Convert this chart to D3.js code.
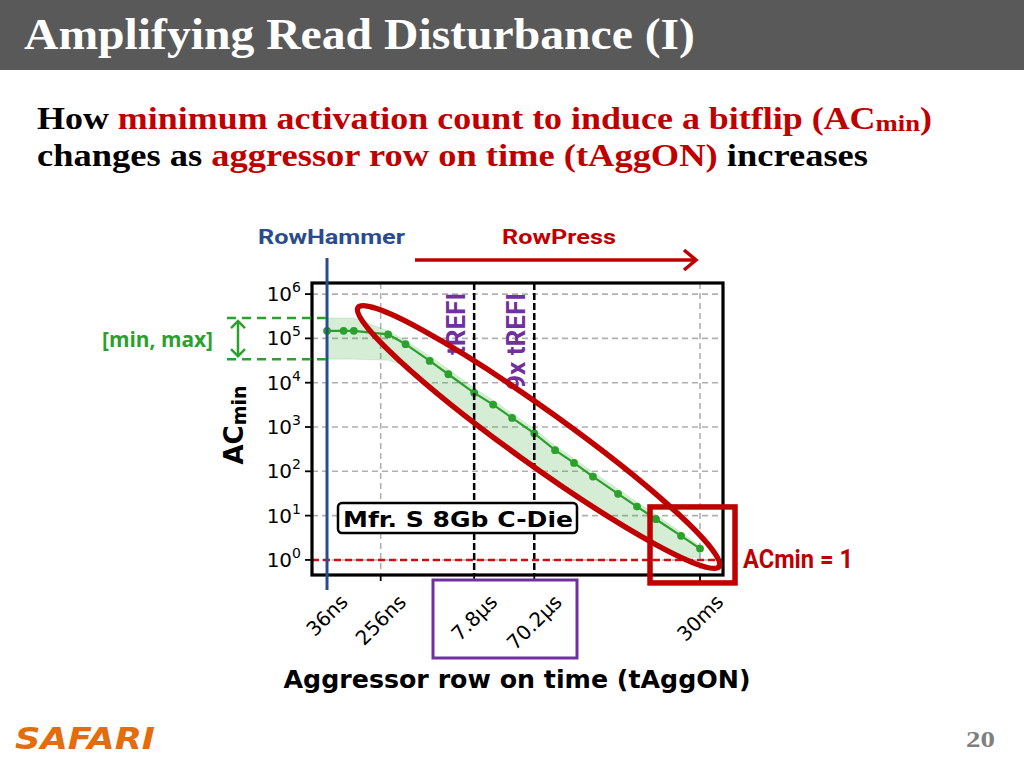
<!DOCTYPE html>
<html><head><meta charset="utf-8">
<script src="https://cdn.jsdelivr.net/npm/d3@7"></script>
<style>body{margin:0;background:#fff}svg{display:block}</style>
</head><body>
<svg id="c" width="1024" height="768"></svg>
<script>
// ---------------- data ----------------
const tAggON = [36e-9, 66e-9, 96e-9, 336e-9, 636e-9, 1.536e-6, 3.036e-6, 7.8e-6, 15.6e-6, 31.2e-6, 70.2e-6,
  150e-6, 300e-6, 600e-6, 1.5e-3, 3e-3, 6e-3, 15e-3, 30e-3];
const acMinTypical = [148000, 148000, 148000, 123000, 74000, 31000, 15500, 5900, 3200, 1600, 720,
  300, 155, 76, 31, 16, 8.3, 3.5, 1.8];
const acMinUpper = [288000, 288000, 288000, 148000, 89000, 40000, 20000, 7600, 4000, 2000, 910,
  380, 195, 95, 40, 20, 10.5, 4.2, 2.1];
const acMinLower = [34000, 34000, 34000, 32000, 24000, 7100, 3200, 1100, 630, 320, 140,
  63, 35, 18, 7.9, 4.2, 2.2, 1.17, 1.12];
const xTickValues = [36e-9, 256e-9, 7.8e-6, 70.2e-6, 30e-3];
const xTickLabels = ["36ns", "256ns", "7.8µs", "70.2µs", "30ms"];
const yTickExps = [0, 1, 2, 3, 4, 5, 6];
const xGridValues = [36e-9, 256e-9, 30e-3];
const trefiValues = [7.8e-6, 70.2e-6];
const trefiLabels = ["tREFI", "9x tREFI"];

const RED = "#c00000", GREEN = "#2ca02c", PURPLE = "#7030a0", BLUE = "#2b4c8c";

const svg = d3.select("#c");
function fit(sel, len) { return sel.attr("textLength", len).attr("lengthAdjust", "spacingAndGlyphs"); }

// ---------------- header ----------------
svg.append("rect").attr("x", 0).attr("y", 0).attr("width", 1024).attr("height", 70).attr("fill", "#595959");
fit(svg.append("text").attr("x", 24).attr("y", 49)
  .attr("font-family", "Liberation Serif").attr("font-weight", "bold").attr("font-size", 44)
  .attr("fill", "#fff").text("Amplifying Read Disturbance (I)"), 671);

const sub1 = svg.append("text").attr("x", 37).attr("y", 129)
  .attr("font-family", "Liberation Serif").attr("font-weight", "bold").attr("font-size", 31);
sub1.append("tspan").attr("fill", "#000").text("How ");
sub1.append("tspan").attr("fill", RED).text("minimum activation count to induce a bitflip (AC");
sub1.append("tspan").attr("fill", RED).attr("font-size", 23).attr("dy", 2).text("min");
sub1.append("tspan").attr("fill", RED).attr("dy", -2).text(")");
fit(sub1, 895);

const sub2 = svg.append("text").attr("x", 37).attr("y", 166)
  .attr("font-family", "Liberation Serif").attr("font-weight", "bold").attr("font-size", 31);
sub2.append("tspan").attr("fill", "#000").text("changes as ");
sub2.append("tspan").attr("fill", RED).text("aggressor row on time (tAggON)");
sub2.append("tspan").attr("fill", "#000").text(" increases");
fit(sub2, 831);

// ---------------- scales ----------------
const L = 312, R = 723, T = 283, B = 575;
const x = d3.scaleLog().domain([Math.pow(10, -7.682), Math.pow(10, -1.158)]).range([L, R]);
const y = d3.scaleLog().domain([Math.pow(10, -0.34), Math.pow(10, 6.25)]).range([B, T]);

const g = svg.append("g");
// gridlines
g.selectAll(".gy").data(yTickExps).join("line")
  .attr("x1", L).attr("x2", R).attr("y1", d => y(Math.pow(10, d))).attr("y2", d => y(Math.pow(10, d)))
  .attr("stroke", "#b0b0b0").attr("stroke-width", 1.6).attr("stroke-dasharray", "6,4");
g.selectAll(".gx").data(xGridValues).join("line")
  .attr("x1", d => x(d)).attr("x2", d => x(d)).attr("y1", T).attr("y2", B)
  .attr("stroke", "#b0b0b0").attr("stroke-width", 1.6).attr("stroke-dasharray", "6,4");

// band, line, dots
const idx = d3.range(tAggON.length);
g.append("path").datum(idx)
  .attr("d", d3.area().x(i => x(tAggON[i])).y0(i => y(acMinLower[i])).y1(i => y(acMinUpper[i])))
  .attr("fill", GREEN).attr("fill-opacity", 0.2).attr("stroke", GREEN).attr("stroke-opacity", 0.12);
g.append("path").datum(idx)
  .attr("d", d3.line().x(i => x(tAggON[i])).y(i => y(acMinTypical[i])))
  .attr("fill", "none").attr("stroke", GREEN).attr("stroke-width", 2.2);
g.selectAll(".dot").data(idx).join("circle")
  .attr("cx", i => x(tAggON[i])).attr("cy", i => y(acMinTypical[i])).attr("r", 3.9).attr("fill", GREEN);

// tREFI lines
g.selectAll(".tr").data(trefiValues).join("line")
  .attr("x1", d => x(d)).attr("x2", d => x(d)).attr("y1", T).attr("y2", B)
  .attr("stroke", "#000").attr("stroke-width", 2.5).attr("stroke-dasharray", "7,3");

// red dashed AC=1
g.append("line").attr("x1", L).attr("x2", R).attr("y1", y(1)).attr("y2", y(1))
  .attr("stroke", "#d01010").attr("stroke-width", 2.5).attr("stroke-dasharray", "7,4");

// frame
g.append("rect").attr("x", L).attr("y", T).attr("width", R - L).attr("height", B - T)
  .attr("fill", "none").attr("stroke", "#000").attr("stroke-width", 3.2);

// y ticks + labels
yTickExps.forEach(e => {
  const yy = y(Math.pow(10, e));
  g.append("line").attr("x1", L - 7).attr("x2", L).attr("y1", yy).attr("y2", yy).attr("stroke", "#000").attr("stroke-width", 1.8);
  const t = g.append("text").attr("x", 301).attr("y", yy + 7).attr("text-anchor", "end")
    .attr("font-family", "DejaVu Sans").attr("font-size", 20).attr("fill", "#000");
  t.append("tspan").text("10");
  t.append("tspan").attr("font-size", 14).attr("dy", -9).text(String(e));
});
// x tick labels rotated
xTickValues.forEach((v, i) => {
  const xx = x(v);
  g.append("line").attr("x1", xx).attr("x2", xx).attr("y1", B).attr("y2", B + 6).attr("stroke", "#000").attr("stroke-width", 1.8);
  const t = g.append("text").attr("text-anchor", "middle").attr("dominant-baseline", "central")
    .attr("font-family", "DejaVu Sans").attr("font-size", 20).attr("fill", "#000").text(xTickLabels[i]);
  const w = t.node().getComputedTextLength();
  const h = (w + 15) * Math.SQRT1_2;
  t.attr("transform", `translate(${xx},${593 + h / 2}) rotate(-45)`);
});

// axis titles
fit(svg.append("text").attr("x", 517).attr("y", 688).attr("text-anchor", "middle")
  .attr("font-family", "DejaVu Sans").attr("font-weight", "bold").attr("font-size", 24)
  .text("Aggressor row on time (tAggON)"), 467);
const yl = svg.append("text").attr("transform", "translate(243,425) rotate(-90)").attr("text-anchor", "middle")
  .attr("font-family", "DejaVu Sans").attr("font-weight", "bold").attr("font-size", 26);
yl.append("tspan").text("AC");
yl.append("tspan").attr("font-size", 19).attr("dy", 3).text("min");

// tREFI labels
trefiValues.forEach((v, i) => {
  const lens = [62, 97];
  const baseX = x(v) - 9;
  fit(svg.append("text").attr("transform", `translate(${baseX},${293 + lens[i]}) rotate(-90)`)
    .attr("font-family", "Roboto").attr("font-weight", "bold").attr("font-size", 25).attr("fill", PURPLE)
    .text(trefiLabels[i]), lens[i]);
});

// Mfr box
svg.append("rect").attr("x", 338).attr("y", 503).attr("width", 239).attr("height", 30).attr("rx", 4)
  .attr("fill", "#fff").attr("stroke", "#000").attr("stroke-width", 2.5);
fit(svg.append("text").attr("x", 343).attr("y", 527)
  .attr("font-family", "DejaVu Sans").attr("font-weight", "bold").attr("font-size", 22)
  .text("Mfr. S 8Gb C-Die"), 230);

// blue RowHammer line at 36ns
svg.append("line").attr("x1", x(36e-9)).attr("x2", x(36e-9)).attr("y1", 258).attr("y2", 590)
  .attr("stroke", BLUE).attr("stroke-width", 3);

// ellipse annotation (defined by tips in data space)
const tip1 = [x(1.04e-7), y(Math.pow(10, 5.73))];
const tip2 = [x(0.0646), y(Math.pow(10, -0.182))];
const cx = (tip1[0] + tip2[0]) / 2, cy = (tip1[1] + tip2[1]) / 2;
const ang = Math.atan2(tip2[1] - tip1[1], tip2[0] - tip1[0]) * 180 / Math.PI;
const rx = Math.hypot(tip2[0] - tip1[0], tip2[1] - tip1[1]) / 2 - 2.5;
svg.append("ellipse").attr("cx", 0).attr("cy", 0).attr("rx", rx).attr("ry", 27)
  .attr("transform", `translate(${cx},${cy}) rotate(${ang})`)
  .attr("fill", "none").attr("stroke", RED).attr("stroke-width", 5.5);

// red square around AC=1 region
const sx = x(30e-3), sy = y(1);
svg.append("rect").attr("x", sx - 50).attr("y", sy - 53).attr("width", 85).attr("height", 76)
  .attr("fill", "none").attr("stroke", RED).attr("stroke-width", 5.5);
fit(svg.append("text").attr("x", 743).attr("y", 568)
  .attr("font-family", "Roboto").attr("font-weight", "bold").attr("font-size", 25).attr("fill", RED)
  .text("ACmin = 1"), 110);

// RowHammer / RowPress
fit(svg.append("text").attr("x", 258).attr("y", 244).attr("font-family", "Roboto").attr("font-weight", "bold")
  .attr("font-size", 21).attr("fill", BLUE).text("RowHammer"), 147);
fit(svg.append("text").attr("x", 502).attr("y", 244).attr("font-family", "Roboto").attr("font-weight", "bold")
  .attr("font-size", 21).attr("fill", RED).text("RowPress"), 114);
svg.append("line").attr("x1", 415).attr("x2", 694).attr("y1", 260).attr("y2", 260)
  .attr("stroke", RED).attr("stroke-width", 3.5);
svg.append("polyline").attr("points", "684,250 696,260 684,270").attr("fill", "none")
  .attr("stroke", RED).attr("stroke-width", 3.5);

// [min, max]
const yMaxPx = y(acMinUpper[0]), yMinPx = y(acMinLower[0]);
[yMaxPx, yMinPx].forEach(yy => svg.append("line").attr("x1", 227).attr("x2", x(36e-9)).attr("y1", yy).attr("y2", yy)
  .attr("stroke", GREEN).attr("stroke-width", 2.5).attr("stroke-dasharray", "9,6"));
svg.append("line").attr("x1", 238).attr("x2", 238).attr("y1", yMaxPx + 3).attr("y2", yMinPx - 3)
  .attr("stroke", GREEN).attr("stroke-width", 2.5);
svg.append("polyline").attr("points", `231,${yMaxPx + 10} 238,${yMaxPx + 3} 245,${yMaxPx + 10}`)
  .attr("fill", "none").attr("stroke", GREEN).attr("stroke-width", 2.5);
svg.append("polyline").attr("points", `231,${yMinPx - 10} 238,${yMinPx - 3} 245,${yMinPx - 10}`)
  .attr("fill", "none").attr("stroke", GREEN).attr("stroke-width", 2.5);
fit(svg.append("text").attr("x", 102).attr("y", 347).attr("font-family", "Open Sans").attr("font-weight", "bold")
  .attr("font-size", 21).attr("fill", GREEN).text("[min, max]"), 111);

// purple box around tREFI tick labels
svg.append("rect").attr("x", 433).attr("y", 580).attr("width", 144).attr("height", 78)
  .attr("fill", "none").attr("stroke", PURPLE).attr("stroke-width", 3);

// footer
fit(svg.append("text").attr("x", 15).attr("y", 749).attr("font-family", "DejaVu Sans").attr("font-weight", "bold")
  .attr("font-style", "italic").attr("font-size", 31).attr("fill", "#e46c0a").text("SAFARI"), 140);
fit(svg.append("text").attr("x", 966).attr("y", 747).attr("font-family", "Liberation Serif").attr("font-weight", "bold")
  .attr("font-size", 24).attr("fill", "#7f7f7f").text("20"), 29);
</script>
</body></html>
